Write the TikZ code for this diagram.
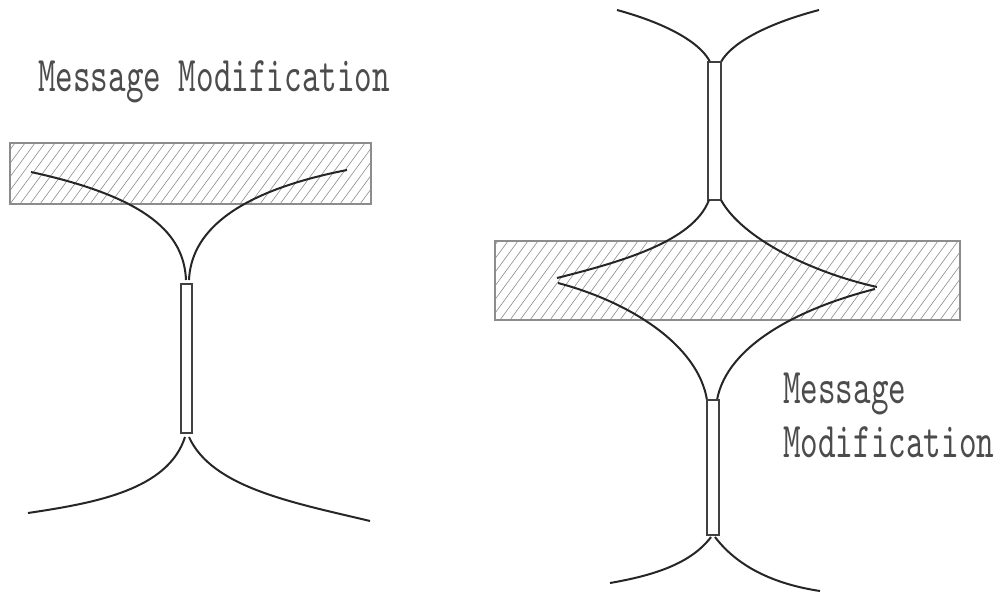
\documentclass[tikz,border=0pt]{standalone}
\usepackage{fontspec}
\newfontfamily\labelfont[FakeStretch=0.67]{lmmono10-regular.otf}

\begin{document}
\begin{tikzpicture}[
  x=1pt, y=-1pt,
  wire/.style={line width=2pt, black!85},
  frame/.style={draw=black!45, line width=1.6pt},
  hatch/.style={black!45, line width=0.6pt},
  slit/.style={draw=black!75, line width=1.3pt, fill=white},
  msg/.style={font={\labelfont\fontsize{50}{54}\selectfont}, text=black!70, inner sep=0pt, align=left}
]
\useasboundingbox (0,0) rectangle (998,594);

% left: hatched plate
\begin{scope}
  \clip (10,143) rectangle (371,204);
  \foreach \x in {-60,-50,...,380}
    \draw[hatch] (\x,204) -- ++(45,-61);
\end{scope}
\draw[frame] (10,143) rectangle (371,204);

\draw[wire] (31,172) .. controls (150,198) and (184,235) .. (186,280);
\draw[wire] (347,170) .. controls (230,193) and (191,235) .. (189,280);
\draw[slit] (181,284) rectangle (192,433);
\draw[wire] (185,437) .. controls (168,490) and (95,503) .. (28,513);
\draw[wire] (189,437) .. controls (212,488) and (295,503) .. (370,521);

\node[msg, anchor=base west] (msgleft) at (38,92) {Message Modification};

% right: hatched plate
\begin{scope}
  \clip (495,241) rectangle (960,320);
  \foreach \x in {440,450,...,960}
    \draw[hatch] (\x,320) -- ++(58,-79);
\end{scope}
\draw[frame] (495,241) rectangle (960,320);

\draw[wire] (617,10) .. controls (672,25) and (702,45) .. (710,62);
\draw[wire] (819,10) .. controls (762,25) and (730,45) .. (721,62);
\draw[slit] (708,62) rectangle (721,200);
\draw[wire] (709,200) .. controls (693,242) and (620,262) .. (557,278);
\draw[wire] (721,200) .. controls (742,238) and (810,272) .. (877,287);
\draw[wire] (558,283) .. controls (630,302) and (698,345) .. (707,400);
\draw[wire] (875,289) .. controls (800,308) and (727,345) .. (717,400);
\draw[slit] (707,400) rectangle (719,535);
\draw[wire] (711,537) .. controls (690,565) and (650,576) .. (610,583);
\draw[wire] (715,537) .. controls (740,570) and (780,585) .. (820,591);

\node[msg, anchor=base west] (msgright) at (783,457) {Message\\Modification};
\end{tikzpicture}
\end{document}
